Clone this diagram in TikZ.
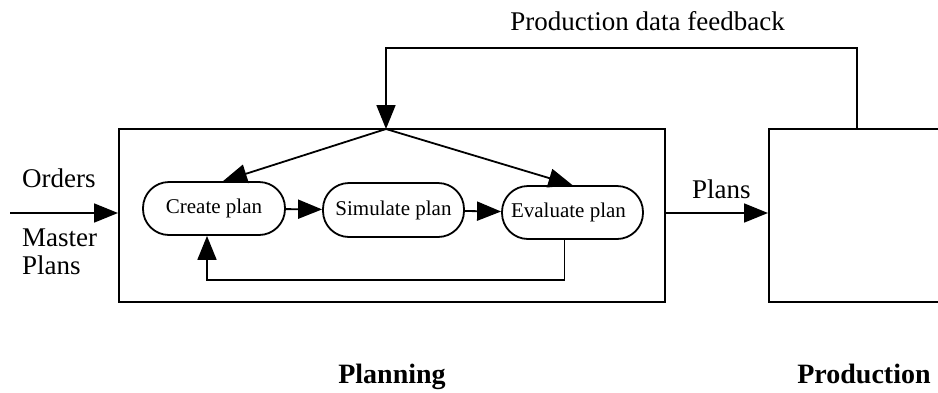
\documentclass[tikz,border=0pt]{standalone}
\usepackage{fontspec}
\setmainfont{Liberation Serif}
\usetikzlibrary{positioning, arrows.meta, calc}

\begin{document}
\begin{tikzpicture}[
        x=1pt, y=-1pt,
        % --- styles ---
        % 1. the two big blocks
        blockbox/.style={
                draw=black,
                line width=2pt,
                minimum height=173pt,
                inner sep=0pt
            },
        % 2. the plan steps (round ends)
        stepnode/.style={
                draw=black,
                line width=1.8pt,
                rounded corners=26pt,
                minimum width=141pt,
                minimum height=53pt,
                inner sep=2pt,
                font=\fontsize{21}{24}\selectfont
            },
        % 3. connectors
        flow/.style={
                line width=1.8pt,
                -{Triangle[length=24pt, width=19pt]}
            },
        % 4. labels
        lbl/.style={
                inner sep=0pt,
                font=\fontsize{27}{28}\selectfont
            },
        caption/.style={
                inner sep=0pt,
                font=\fontsize{28}{30}\selectfont\bfseries
            }
    ]
    \useasboundingbox (0,0) rectangle (938,392);
    \clip (0,0) rectangle (938,392);

    % 1. The blocks
    \node[blockbox, minimum width=546pt] (planning) at (392,215.5) {};
    \node[blockbox, minimum width=190pt] (production) at (864,215.5) {};

    % 2. Plan steps
    \node[stepnode, minimum width=142pt] (create) at (214,208.5) {Create plan};
    \node[stepnode, minimum height=54pt] (simulate) at (393.5,210) {Simulate plan};
    \node[stepnode] (evaluate) at (572.5,212.5) {Evaluate plan\hspace*{8pt}};

    % 3. Helper points
    \coordinate (split) at (386,129);
    \coordinate (fbtop) at (857,48);
    \coordinate (inflow) at (10,213);
    \coordinate (outflow) at (700,213);
    \coordinate (capline) at (0,383);

    % 4. Feedback
    \draw[flow] (fbtop |- production.north) -- (fbtop) -| (split);
    \draw[flow] (split) -- ([xshift=9pt]create.north);
    \draw[flow] (split) -- (evaluate.north);

    % 5. Step chain
    \draw[flow] (create) -- (simulate);
    \draw[flow] (simulate) -- (evaluate);
    \draw[flow] ([xshift=-8pt]evaluate.south) -- ++(0,40) -| ([xshift=-7pt]create.south);

    % 6. In / out
    \draw[flow] (inflow) -- (inflow -| planning.west);
    \draw[flow] (outflow -| planning.east) -- (outflow -| production.west);

    % 7. Labels
    \node[lbl, anchor=base west] (orders) at (22,187) {Orders};
    \node[lbl, anchor=base west, align=left] (master) at (22,274) {Master\\Plans};
    \node[lbl, anchor=base west] (plans) at (692,198) {Plans};
    \node[lbl, anchor=base east] (feedback) at (785,30) {Production data feedback};
    \node[caption, anchor=base] (planlbl) at (planning.south |- capline) {Planning};
    \node[caption, anchor=base] (prodlbl) at (production.south |- capline) {Production};

\end{tikzpicture}
\end{document}
